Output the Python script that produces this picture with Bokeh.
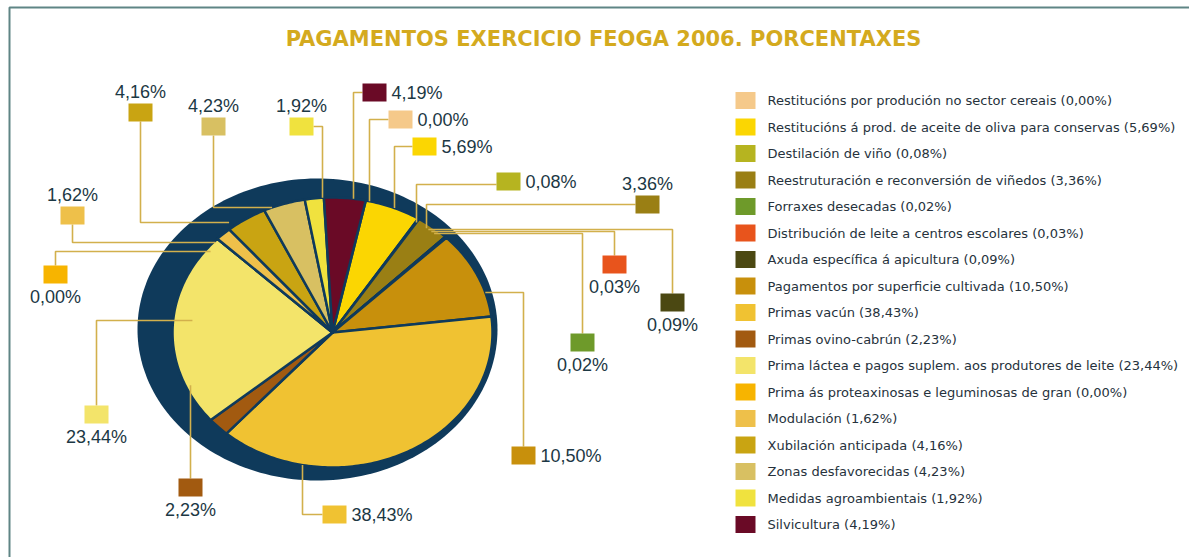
import numpy as np
from bokeh.plotting import figure
from bokeh.models import Range1d, ColumnDataSource
from bokeh.embed import file_html
from bokeh.resources import INLINE
from bokeh.core.properties import value

# ---------------- data ----------------
title = "PAGAMENTOS EXERCICIO FEOGA 2006. PORCENTAXES"

categories = [
    "Restitucións por produción no sector cereais",
    "Restitucións á prod. de aceite de oliva para conservas",
    "Destilación de viño",
    "Reestruturación e reconversión de viñedos",
    "Forraxes desecadas",
    "Distribución de leite a centros escolares",
    "Axuda específica á apicultura",
    "Pagamentos por superficie cultivada",
    "Primas vacún",
    "Primas ovino-cabrún",
    "Prima láctea e pagos suplem. aos produtores de leite",
    "Prima ás proteaxinosas e leguminosas de gran",
    "Modulación",
    "Xubilación anticipada",
    "Zonas desfavorecidas",
    "Medidas agroambientais",
    "Silvicultura",
]

values = [0.00, 5.69, 0.08, 3.36, 0.02, 0.03, 0.09, 10.50, 38.43,
          2.23, 23.44, 0.00, 1.62, 4.16, 4.23, 1.92, 4.19]

colors = ["#f5c98a", "#fbd602", "#b6b420", "#9a7f14", "#6e9a2a", "#e8541c",
          "#4b4812", "#c8900c", "#f0c232", "#a25a10", "#f3e46a", "#f7b400",
          "#eec04a", "#c9a412", "#d8c062", "#f0e23e", "#6a0a26"]

pct_labels = [("%.2f" % v).replace(".", ",") + "%" for v in values]
legend_labels = ["%s (%s)" % (c, l) for c, l in zip(categories, pct_labels)]

# ---------------- layout / style ----------------
NAVY = "#0f3a5b"
LEADER = "#d2b04c"
TXT = "#1c3844"
CX, CY, A, B = 332.0, 332.0, 160.0, 135.0        # pie ellipse (px)
SCX, SCY, SA, SB = 317.0, 329.0, 180.0, 151.0    # navy depth ellipse
START = 78.0                                      # degrees, clockwise from here

# per slice: square centre, text placement, leader route, last direction, radius factor
label_layout = [
    (400, 119, "right", [(388, 119), (369, 119)], "v", 1.0),
    (424, 146, "right", [(412, 146), (394, 146)], "v", 1.0),
    (508, 181, "right", [(496, 184), (416, 184)], "v", 0.97),
    (647, 204, "above", [(635, 204), (426, 204)], "v", 0.97),
    (582, 342, "below", [(582, 333), (582, 233)], "h", 0.97),
    (614, 264, "below", [(614, 255), (614, 231)], "h", 0.97),
    (672, 302, "below", [(672, 293), (672, 229)], "h", 0.97),
    (523, 455, "right", [(523, 446), (523, 292)], "h", 1.0),
    (334, 514, "right", [(322, 514), (302, 514)], "v", 1.0),
    (190, 487, "below", [(190, 478)], "v", 0.97),
    (96, 414, "below", [(96, 405), (96, 320)], "h", 0.88),
    (55, 274, "below", [(55, 265), (55, 251)], "h", 0.97),
    (72, 215, "above", [(72, 224), (72, 242)], "h", 0.99),
    (140, 112, "above", [(140, 121), (140, 222)], "h", 1.04),
    (213, 126, "above", [(213, 135), (213, 207)], "h", 1.0),
    (301, 126, "above", [(313, 126), (322, 126)], "v", 1.0),
    (374, 92, "right", [(362, 92), (353, 92)], "v", 1.0),
]

W, H = 1189, 557
p = figure(width=W, height=H, x_range=Range1d(0, W), y_range=Range1d(H, 0),
           output_backend="svg", toolbar_location=None, tools="", min_border=0)
p.axis.visible = False
p.grid.visible = False
p.outline_line_color = None
p.background_fill_color = "white"
p.border_fill_color = "white"

# frame
p.line(x=[9, 9, W], y=[H, 7, 7], line_color="#5f8585", line_width=2)

# title
p.text(x=[603], y=[38], text=[title], text_font=value("DejaVu Sans"),
       text_font_size="21px", text_font_style="bold", text_color="#d4aa1e",
       text_align="center", text_baseline="middle")

# navy depth ellipse
tt = np.linspace(0, 2 * np.pi, 200)
p.patch(x=SCX + SA * np.cos(tt), y=SCY - SB * np.sin(tt), fill_color=NAVY, line_color=None)

# wedges
total = float(sum(values))
cum = np.concatenate([[0.0], np.cumsum(values)]) / total * 360.0
xs, ys = [], []
for i in range(len(values)):
    t0 = np.radians(START - cum[i])
    t1 = np.radians(START - cum[i + 1])
    n = max(2, int(abs(cum[i + 1] - cum[i])) + 2)
    ts = np.linspace(t0, t1, n)
    xs.append(np.concatenate([[CX], CX + A * np.cos(ts)]))
    ys.append(np.concatenate([[CY], CY - B * np.sin(ts)]))
p.patches(xs=xs, ys=ys, fill_color=colors, line_color=NAVY, line_width=2.5,
          line_join="round")

# leader lines
lxs, lys = [], []
for (sx, sy, mode, route, d, rf) in label_layout:
    lx, ly = route[-1]
    if d == "v":
        u = (lx - CX) / (A * rf)
        h = B * rf * np.sqrt(max(0.0, 1 - u * u))
        ey = CY - h if ly < CY else CY + h
        end = (lx, ey)
    else:
        u = (ly - CY) / (B * rf)
        w = A * rf * np.sqrt(max(0.0, 1 - u * u))
        ex = CX - w if lx < CX else CX + w
        end = (ex, ly)
    pts = list(route) + [end]
    lxs.append([q[0] for q in pts])
    lys.append([q[1] for q in pts])
p.multi_line(xs=lxs, ys=lys, line_color=LEADER, line_width=1.6)

# label squares and texts
sq = ColumnDataSource(dict(x=[l[0] for l in label_layout], y=[l[1] for l in label_layout],
                           c=colors))
p.rect(x="x", y="y", width=24, height=18, fill_color="c", line_color=None, source=sq)

for mode, dx, dy, align in [("right", 17, 0, "left"), ("above", 0, -21, "center"),
                            ("below", 0, 22, "center")]:
    idx = [i for i, l in enumerate(label_layout) if l[2] == mode]
    p.text(x=[label_layout[i][0] + dx for i in idx], y=[label_layout[i][1] + dy for i in idx],
           text=[pct_labels[i] for i in idx], text_font=value("Liberation Sans"),
           text_font_size="18px", text_color=TXT, text_align=align, text_baseline="middle")

# legend
rows = [100 + 26.5 * i for i in range(len(categories))]
p.rect(x=[745] * len(rows), y=rows, width=20, height=17, fill_color=colors, line_color=None)
p.text(x=[767] * len(rows), y=rows, text=legend_labels, text_font=value("DejaVu Sans"),
       text_font_size="13px", text_color="#26323c", text_baseline="middle")

open("out.html", "w").write(file_html(p, INLINE))
